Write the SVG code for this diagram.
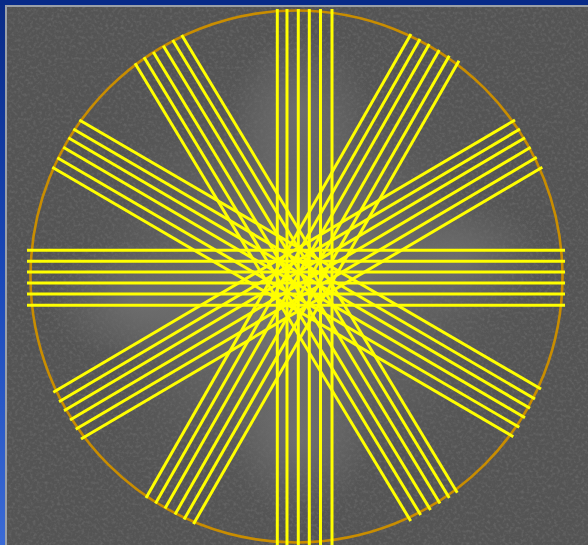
<svg xmlns="http://www.w3.org/2000/svg" width="588" height="545" viewBox="0 0 588 545">
  <defs>
    <linearGradient id="blue" x1="0" y1="0" x2="0" y2="1">
      <stop offset="0" stop-color="#082a86"/>
      <stop offset="0.5" stop-color="#1a48b8"/>
      <stop offset="1" stop-color="#3a6ad6"/>
    </linearGradient>
    <radialGradient id="glow" cx="296" cy="285" r="260" gradientUnits="userSpaceOnUse">
      <stop offset="0" stop-color="#9a9a9a" stop-opacity="0.7"/>
      <stop offset="0.35" stop-color="#8a8a8a" stop-opacity="0.4"/>
      <stop offset="0.75" stop-color="#707070" stop-opacity="0.08"/>
      <stop offset="1" stop-color="#606060" stop-opacity="0"/>
    </radialGradient>
    <radialGradient id="side" cx="0.5" cy="0.5" r="0.5">
      <stop offset="0" stop-color="#8c8c8c" stop-opacity="0.4"/>
      <stop offset="1" stop-color="#8c8c8c" stop-opacity="0"/>
    </radialGradient>
    <filter id="noise" x="0" y="0" width="100%" height="100%">
      <feTurbulence type="fractalNoise" baseFrequency="0.33" numOctaves="2" seed="7" result="t"/>
      <feColorMatrix in="t" type="matrix" values="0 0 0 0 0.15  0 0 0 0 0.15  0 0 0 0 0.15  -2.4 0 0 0 1.35"/>
    </filter>
    <style>
      .ray { stroke: #ffff00; stroke-width: 3; fill: none; stroke-linecap: butt; }
      .rim { stroke: #c98d00; stroke-width: 2.6; fill: none; }
    </style>
  </defs>

  <!-- backdrop -->
  <rect x="0" y="0" width="588" height="545" fill="url(#blue)"/>
  <rect x="0" y="0" width="588" height="5" fill="#072a88"/>
  <rect x="5" y="5" width="583" height="540" fill="#9aa0a8"/>
  <rect x="7" y="7" width="581" height="538" fill="#545454"/>
  <rect x="7" y="7" width="581" height="538" fill="url(#glow)"/>
  <ellipse cx="135" cy="300" rx="90" ry="60" fill="url(#side)"/>
  <ellipse cx="460" cy="260" rx="90" ry="60" fill="url(#side)"/>
  <ellipse cx="300" cy="110" rx="70" ry="80" fill="url(#side)"/>
  <ellipse cx="300" cy="440" rx="70" ry="80" fill="url(#side)"/>
  <rect x="7" y="7" width="581" height="538" filter="url(#noise)" opacity="0.7"/>

  <!-- circle -->
  <g id="circle">
    <circle class="rim" cx="296.5" cy="276.5" r="266"/>
  </g>

  <g id="connectors">
    <g id="bundle-0">
      <line class="ray" x1="27" y1="250.3" x2="565" y2="250.3"/>
      <line class="ray" x1="27" y1="261.3" x2="565" y2="261.3"/>
      <line class="ray" x1="27" y1="272" x2="565" y2="272"/>
      <line class="ray" x1="27" y1="283" x2="565" y2="283"/>
      <line class="ray" x1="27" y1="294" x2="565" y2="294"/>
      <line class="ray" x1="27" y1="305.3" x2="565" y2="305.3"/>
    </g>
    <g id="bundle-90">
      <line class="ray" x1="277.3" y1="9" x2="277.3" y2="546"/>
      <line class="ray" x1="287" y1="9" x2="287" y2="546"/>
      <line class="ray" x1="298.3" y1="9" x2="298.3" y2="546"/>
      <line class="ray" x1="309.3" y1="9" x2="309.3" y2="546"/>
      <line class="ray" x1="320.5" y1="9" x2="320.5" y2="546"/>
      <line class="ray" x1="332" y1="9" x2="332" y2="546"/>
    </g>
    <g id="bundle-60">
      <line class="ray" x1="135" y1="63.3" x2="410.7" y2="521"/>
      <line class="ray" x1="144" y1="57.3" x2="420.7" y2="515"/>
      <line class="ray" x1="153.3" y1="52" x2="430.5" y2="510"/>
      <line class="ray" x1="163.3" y1="45.7" x2="440" y2="503.5"/>
      <line class="ray" x1="172.7" y1="40" x2="449.3" y2="498"/>
      <line class="ray" x1="181.7" y1="35" x2="457.3" y2="492.7"/>
    </g>
    <g id="bundle-120">
      <line class="ray" x1="411" y1="34" x2="146" y2="498"/>
      <line class="ray" x1="420" y1="39" x2="155.5" y2="503.5"/>
      <line class="ray" x1="429.3" y1="44" x2="165" y2="508.5"/>
      <line class="ray" x1="439.3" y1="50" x2="175" y2="514.5"/>
      <line class="ray" x1="449.3" y1="55.7" x2="184" y2="519.5"/>
      <line class="ray" x1="459" y1="60.7" x2="193.5" y2="524"/>
    </g>
    <g id="bundle-30">
      <line class="ray" x1="79.3" y1="120" x2="541" y2="389"/>
      <line class="ray" x1="73.3" y1="129" x2="535" y2="399"/>
      <line class="ray" x1="68.3" y1="137.7" x2="530" y2="408.3"/>
      <line class="ray" x1="63.3" y1="147.3" x2="525" y2="417.7"/>
      <line class="ray" x1="57.3" y1="157.7" x2="519.3" y2="427.3"/>
      <line class="ray" x1="52.3" y1="167.3" x2="513.3" y2="436.7"/>
    </g>
    <g id="bundle-150">
      <line class="ray" x1="515" y1="120" x2="53.3" y2="392.3"/>
      <line class="ray" x1="520" y1="129" x2="59" y2="401.7"/>
      <line class="ray" x1="525" y1="137.7" x2="64" y2="410.7"/>
      <line class="ray" x1="530.7" y1="147.3" x2="70" y2="420"/>
      <line class="ray" x1="536.7" y1="157.3" x2="75.7" y2="429.3"/>
      <line class="ray" x1="542.3" y1="167.3" x2="81" y2="439"/>
    </g>
  </g>
</svg>
